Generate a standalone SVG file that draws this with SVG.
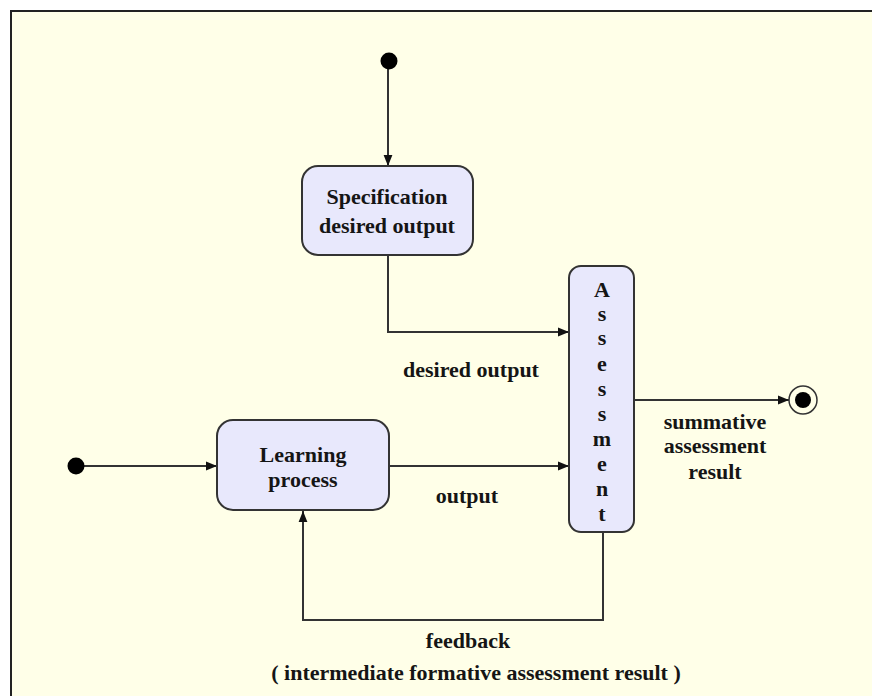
<svg xmlns="http://www.w3.org/2000/svg" width="872" height="696" viewBox="0 0 872 696">
<defs>
<marker id="arr" viewBox="0 0 10 10" refX="10" refY="5" markerWidth="11" markerHeight="11" markerUnits="userSpaceOnUse" orient="auto">
<path d="M0,1 L10,5 L0,9 Z" fill="#111"/>
</marker>
</defs>
<style>
.node{fill:#E8E8FC;stroke:#333;stroke-width:2}
.t{font-family:"Liberation Serif","Times New Roman",serif;font-weight:bold;font-size:22px;fill:#151515;text-anchor:middle}
.c{fill:none;stroke:#333;stroke-width:2}
</style>
<rect x="0" y="0" width="872" height="696" fill="#FFFFFF"/>
<rect x="11" y="11" width="861" height="685" fill="#FFFFE8"/>
<path d="M11,696 L11,11 L872,11" fill="none" stroke="#222" stroke-width="2"/>
<g id="connectors">
<path class="c" d="M388,68 L388,166" marker-end="url(#arr)"/>
<path class="c" d="M388,255 L388,332 L569,332" marker-end="url(#arr)"/>
<path class="c" d="M80,466 L217,466" marker-end="url(#arr)"/>
<path class="c" d="M389,466 L569,466" marker-end="url(#arr)"/>
<path class="c" d="M634,400 L789,400" marker-end="url(#arr)"/>
<path class="c" d="M603,532 L603,620 L303,620 L303,511" marker-end="url(#arr)"/>
</g>
<g id="start1"><circle cx="389" cy="61" r="8.5" fill="#000"/></g>
<g id="start2"><circle cx="76" cy="466" r="8.5" fill="#000"/></g>
<g id="final"><circle cx="803" cy="400" r="14" fill="#FFFFE8" stroke="#333" stroke-width="1.5"/><circle cx="803" cy="400" r="8" fill="#000"/></g>
<g id="spec">
<rect class="node" x="302" y="166" width="171" height="89" rx="16"/>
<text class="t" x="387" y="204">Specification</text>
<text class="t" x="387" y="233">desired output</text>
</g>
<g id="learning">
<rect class="node" x="217" y="420" width="172" height="90" rx="16"/>
<text class="t" x="303" y="462">Learning</text>
<text class="t" x="303" y="487">process</text>
</g>
<g id="assessment">
<rect class="node" x="569" y="266" width="65" height="266" rx="12"/>
<text class="t" x="602" y="297">A</text>
<text class="t" x="602" y="321">s</text>
<text class="t" x="602" y="345">s</text>
<text class="t" x="602" y="371">e</text>
<text class="t" x="602" y="396">s</text>
<text class="t" x="602" y="421">s</text>
<text class="t" x="602" y="446">m</text>
<text class="t" x="602" y="471">e</text>
<text class="t" x="602" y="496">n</text>
<text class="t" x="602" y="521">t</text>
</g>
<g id="labels">
<text class="t" x="471" y="377">desired output</text>
<text class="t" x="467" y="503">output</text>
<text class="t" x="715" y="429">summative</text>
<text class="t" x="715" y="453">assessment</text>
<text class="t" x="715" y="479">result</text>
<text class="t" x="468" y="648">feedback</text>
<text class="t" x="476" y="680" font-size="21.5">( intermediate formative assessment result )</text>
</g>
</svg>
